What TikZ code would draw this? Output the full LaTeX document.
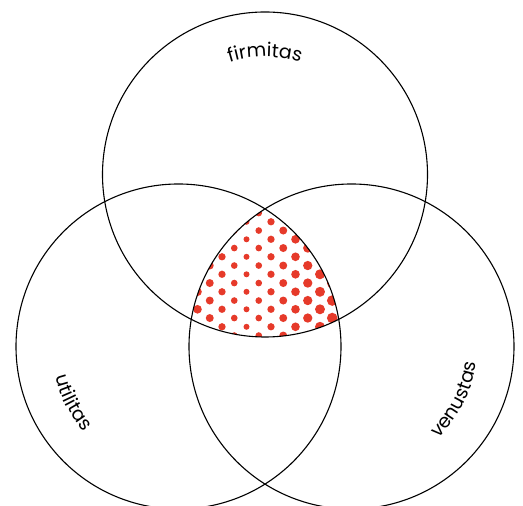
\documentclass[tikz,border=0pt]{standalone}
\usepackage{fontspec}
\newfontfamily\labelfont{Poppins}
\usetikzlibrary{decorations.text}
\definecolor{dotred}{RGB}{230,58,42}
\begin{document}
\begin{tikzpicture}[x=1pt,y=1pt,
  ring/.style={circle,draw=black,line width=1.1pt,minimum size=325pt,inner sep=0pt},
  halftone/.style={fill=dotred},
  arclabel/.style={decorate,decoration={text along path,text align=center,
     text={|\labelfont\fontsize{19}{19}\selectfont|#1}}}]
\path[use as bounding box] (0,0) rectangle (523,506);
\clip (0,0) rectangle (523,506);
\coordinate (cT) at (265,331.5);
\coordinate (cL) at (178.5,159.5);
\coordinate (cR) at (351.5,159.5);
\begin{scope}
  \clip (cT) circle[radius=162.5];
  \clip (cL) circle[radius=162.5];
  \clip (cR) circle[radius=162.5];
  \foreach \i in {-7,...,8}{
    \foreach \j in {-4,...,13}{
      \pgfmathtruncatemacro{\myparity}{mod(\i+\j+100,2)}
      \ifnum\myparity=0
        \fill[halftone] ({246.5+12.25*\i},{266.7-8.75*\j}) circle[radius={3+0.33*abs(\i)}];
      \fi
    }
  }
\end{scope}
\node[ring] (top) at (cT) {};
\node[ring] (left) at (cL) {};
\node[ring] (right) at (cR) {};
\path[arclabel=firmitas] ([shift={(115:117.5)}]cT) arc[start angle=115,end angle=65,radius=117.5];
\path[arclabel=utilitas] ([shift={(183:127)}]cL) arc[start angle=183,end angle=233,radius=127];
\path[arclabel=venustas] ([shift={(-52:126)}]cR) arc[start angle=-52,end angle=-2,radius=126];
\end{tikzpicture}
\end{document}
